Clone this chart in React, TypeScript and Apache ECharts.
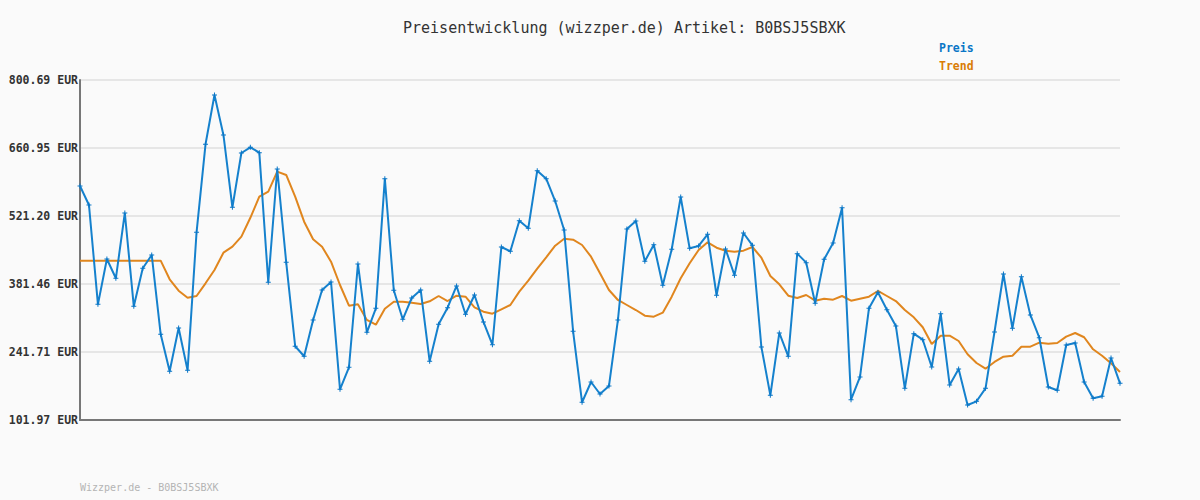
import React, { useEffect, useRef } from "react";
import * as echarts from "echarts";

const TITLE = "Preisentwicklung (wizzper.de) Artikel: B0BSJ5SBXK";
const FOOTER = "Wizzper.de - B0BSJ5SBXK";
const yTicks = [101.97, 241.71, 381.46, 521.2, 660.95, 800.69];

const preis = [
  582.8, 543.8, 339.7, 432.8, 393.2, 527.4, 335.6, 413.7, 441.1, 278.1,
  202.0, 291.1, 204.1, 487.7, 668.6, 769.9, 687.7, 539.1, 650.7, 662.4,
  651.3, 385.0, 617.8, 426.1, 253.5, 232.9, 307.5, 369.2, 385.6, 165.1,
  210.3, 422.6, 282.2, 331.5, 597.9, 368.5, 308.9, 352.7, 369.2, 222.6,
  298.7, 332.8, 377.4, 319.2, 358.9, 303.4, 256.8, 457.5, 448.7, 511.6,
  495.9, 614.3, 597.9, 552.0, 492.5, 284.3, 138.4, 180.1, 155.4, 171.9,
  307.5, 494.5, 510.9, 428.1, 462.2, 378.8, 452.8, 560.3, 454.8, 459.6,
  483.6, 358.3, 453.4, 399.4, 486.3, 461.0, 252.0, 152.8, 280.8, 232.9,
  443.8, 425.3, 341.8, 432.2, 465.7, 538.3, 143.8, 190.4, 331.5, 364.4,
  328.7, 295.2, 167.1, 279.4, 267.0, 210.9, 320.5, 173.9, 206.8, 132.8,
  140.4, 167.1, 282.8, 402.0, 290.4, 396.5, 317.8, 271.1, 169.8, 163.0,
  256.1, 260.2, 180.1, 146.6, 150.7, 229.4, 177.4,
];

const trend = [
  429.4, 429.4, 429.4, 429.4, 429.4, 429.4, 429.4, 429.4, 429.4, 429.4,
  391.1, 367.7, 353.3, 356.8, 382.9, 410.3, 445.8, 458.1, 478.7, 517.5,
  560.9, 571.2, 612.3, 605.5, 560.9, 509.5, 473.3, 458.1, 427.3, 379.4,
  336.9, 339.8, 307.5, 297.8, 330.7, 345.1, 345.1, 343.0, 340.4, 345.9,
  356.8, 346.5, 357.4, 355.4, 333.6, 324.6, 320.5, 329.5, 338.3, 365.7,
  388.3, 412.9, 436.3, 460.2, 474.6, 472.5, 461.6, 437.6, 403.5, 369.2,
  348.6, 338.3, 328.0, 316.3, 314.3, 322.5, 355.4, 393.2, 424.0, 451.4,
  467.2, 456.1, 449.9, 447.9, 449.9, 457.5, 435.5, 397.9, 380.9, 357.4,
  352.7, 358.9, 347.2, 351.3, 349.2, 356.8, 347.2, 351.3, 355.4, 367.1,
  356.8, 346.5, 328.0, 313.0, 292.5, 258.2, 275.2, 275.2, 264.3, 237.0,
  219.1, 207.4, 221.2, 232.1, 234.1, 252.6, 252.6, 260.9, 258.8, 260.2,
  273.2, 280.8, 272.0, 247.3, 234.1, 218.5, 200.6,
];

const categories = preis.map((_, i) => String(i + 1));

const PLUS = "path://M2,0H3V2H5V3H3V5H2V3H0V2H2Z";

export default function App() {
  const ref = useRef<HTMLDivElement>(null);
  useEffect(() => {
    document.body.style.margin = "0";
    const chart = echarts.init(ref.current!, null, { renderer: "svg" });
    const mono = "'DejaVu Sans Mono', monospace";
    chart.setOption({
      animation: false,
      backgroundColor: "#fafafa",
      title: {
        text: TITLE,
        left: 398,
        top: 15,
        textStyle: { fontFamily: mono, fontSize: 15, fontWeight: "normal", color: "#333" },
      },
      legend: {
        orient: "vertical",
        left: 929,
        top: 37,
        itemWidth: 0,
        itemHeight: 0,
        itemGap: 6,
        icon: "rect",
        data: [
          { name: "Preis", textStyle: { color: "#0a76c6" } },
          { name: "Trend", textStyle: { color: "#d97c06" } },
        ],
        textStyle: { fontFamily: mono, fontSize: 11.5, fontWeight: "bold" },
      },
      grid: { left: 80, right: 80, top: 80, bottom: 80 },
      xAxis: {
        type: "category",
        data: categories,
        boundaryGap: false,
        axisLine: { lineStyle: { color: "#777", width: 2 } },
        axisTick: { show: false },
        axisLabel: { show: false },
        splitLine: { show: false },
      },
      yAxis: {
        type: "value",
        min: yTicks[0],
        max: yTicks[yTicks.length - 1],
        axisLine: { show: true, lineStyle: { color: "#777", width: 2 } },
        axisTick: { show: false, customValues: yTicks },
        axisLabel: {
          customValues: yTicks,
          margin: 2,
          formatter: (v: number) => v.toFixed(2) + " EUR",
          fontFamily: mono,
          fontSize: 11.5,
          fontWeight: "bold",
          color: "#333",
        },
        splitLine: { show: true, lineStyle: { color: "#e6e6e6", width: 2 } },
      },
      graphic: [
        {
          type: "text",
          left: 80,
          top: 482,
          style: { text: FOOTER, fontFamily: mono, fontSize: 10, fill: "#b4b4b4" },
        },
      ],
      series: [
        {
          name: "Preis",
          type: "line",
          data: preis,
          symbol: PLUS,
          symbolSize: 5,
          showSymbol: true,
          lineStyle: { color: "#1581cd", width: 2 },
          itemStyle: { color: "#0a76c6" },
          z: 3,
        },
        {
          name: "Trend",
          type: "line",
          data: trend,
          symbol: "none",
          lineStyle: { color: "#e0861e", width: 2 },
          itemStyle: { color: "#d97c06" },
          z: 2,
        },
      ],
    });
    return () => chart.dispose();
  }, []);
  return <div ref={ref} style={{ width: 1200, height: 500 }} />;
}
